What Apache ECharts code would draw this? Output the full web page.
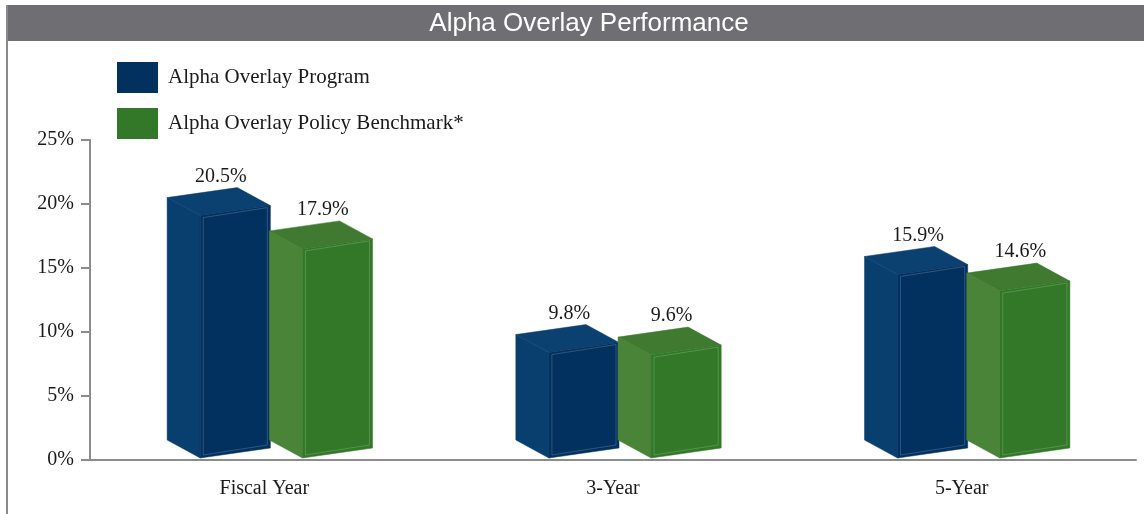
<!DOCTYPE html>
<html>
<head>
<meta charset="utf-8">
<script src="https://cdn.jsdelivr.net/npm/echarts@6/dist/echarts.min.js"></script>
<style>
  html, body { margin: 0; padding: 0; background: #fff; }
  #main { width: 1144px; height: 514px; }
</style>
</head>
<body>
<div id="main"></div>
<script>
var categories = ['Fiscal Year', '3-Year', '5-Year'];
var programValues = [20.5, 9.8, 15.9];
var benchmarkValues = [17.9, 9.6, 14.6];
var seriesNames = ['Alpha Overlay Program', 'Alpha Overlay Policy Benchmark*'];

var SERIF = '"Liberation Serif", "DejaVu Serif", serif';

// face colours for each box: front, side, top
var blueFaces = { front: '#02305f', side: '#083f6e', top: '#0a4170' };
var greenFaces = { front: '#327828', side: '#4a8438', top: '#3f7a30' };

function boxRenderer(offset, faces) {
  return function (params, api) {
    var cat = api.value(0);
    var val = api.value(1);
    var top = api.coord([cat, val]);
    var base = api.coord([cat, 0]);
    var k = api.size([1, 0])[0] / 348;
    var w = 70 * k, dx = 33 * k, dy = 18, s = 10;
    var x0 = top[0] + offset * k;
    var y0 = base[1] - 2;
    var yf = top[1] + dy;

    var side = [[x0 - dx, yf - dy], [x0, yf], [x0, y0], [x0 - dx, y0 - dy]];
    var lid = [[x0, yf], [x0 + w, yf - s], [x0 + w - dx, yf - s - dy], [x0 - dx, yf - dy]];
    var front = [[x0, yf], [x0 + w, yf - s], [x0 + w, y0 - s], [x0, y0]];
    var inner = [[x0 + 3, yf + 2], [x0 + w - 3, yf - s + 2], [x0 + w - 3, y0 - s - 3], [x0 + 3, y0 - 3]];

    return {
      type: 'group',
      children: [
        { type: 'polygon', shape: { points: side }, style: { fill: faces.side, stroke: faces.side, lineWidth: 0.5 } },
        { type: 'polygon', shape: { points: lid }, style: { fill: faces.top, stroke: faces.top, lineWidth: 0.5 } },
        { type: 'polygon', shape: { points: front }, style: { fill: faces.front, stroke: faces.front, lineWidth: 0.5 } },
        { type: 'polygon', shape: { points: inner }, style: { fill: 'none', stroke: 'rgba(255,255,255,0.18)', lineWidth: 1 } },
        {
          type: 'text',
          style: {
            x: x0 - dx + (w + dx) / 2 + 2,
            y: top[1] - 21,
            text: val.toFixed(1) + '%',
            font: '20px ' + SERIF,
            fill: '#1a1a1a',
            align: 'center',
            verticalAlign: 'middle'
          }
        }
      ]
    };
  };
}

var chart = echarts.init(document.getElementById('main'));

chart.setOption({
  animation: false,
  backgroundColor: '#fff',
  title: {
    text: 'Alpha Overlay Performance',
    left: 584,
    top: 6,
    textAlign: 'center',
    textStyle: { color: '#fff', fontSize: 26, fontWeight: 'normal', fontFamily: '"Liberation Sans", Arial, sans-serif' }
  },
  graphic: [
    { type: 'rect', z: -1, shape: { x: 7, y: 5, width: 1137, height: 36 }, style: { fill: '#6f6e72' } },
    { type: 'rect', z: -1, shape: { x: 6, y: 5, width: 2, height: 509 }, style: { fill: '#8a898c' } }
  ],
  legend: {
    orient: 'vertical',
    left: 112,
    top: 57,
    itemWidth: 41,
    itemHeight: 31,
    itemGap: 15,
    icon: 'rect',
    data: seriesNames,
    textStyle: { fontFamily: SERIF, fontSize: 21, color: '#1a1a1a', padding: [0, 0, 0, 5] }
  },
  grid: { left: 90, right: 8, top: 140, bottom: 54 },
  xAxis: {
    type: 'category',
    data: categories,
    axisLine: { lineStyle: { color: '#8c8c8c', width: 2 } },
    axisTick: { inside: true, length: 7, lineStyle: { color: '#8c8c8c', width: 2 } },
    axisLabel: { fontFamily: SERIF, fontSize: 20, color: '#1a1a1a', margin: 19 }
  },
  yAxis: {
    type: 'value',
    min: 0,
    max: 25,
    interval: 5,
    axisLine: { show: true, lineStyle: { color: '#8c8c8c', width: 2 } },
    axisTick: { show: true, length: 9, lineStyle: { color: '#8c8c8c', width: 2 } },
    splitLine: { show: false },
    axisLabel: { formatter: '{value}%', fontFamily: SERIF, fontSize: 20, color: '#1a1a1a', margin: 16 }
  },
  series: [
    {
      name: seriesNames[0],
      type: 'custom',
      itemStyle: { color: blueFaces.front },
      renderItem: boxRenderer(-64, blueFaces),
      encode: { x: 0, y: 1 },
      data: programValues.map(function (v, i) { return [i, v]; })
    },
    {
      name: seriesNames[1],
      type: 'custom',
      itemStyle: { color: greenFaces.front },
      renderItem: boxRenderer(38, greenFaces),
      encode: { x: 0, y: 1 },
      data: benchmarkValues.map(function (v, i) { return [i, v]; })
    }
  ]
});
</script>
</body>
</html>
